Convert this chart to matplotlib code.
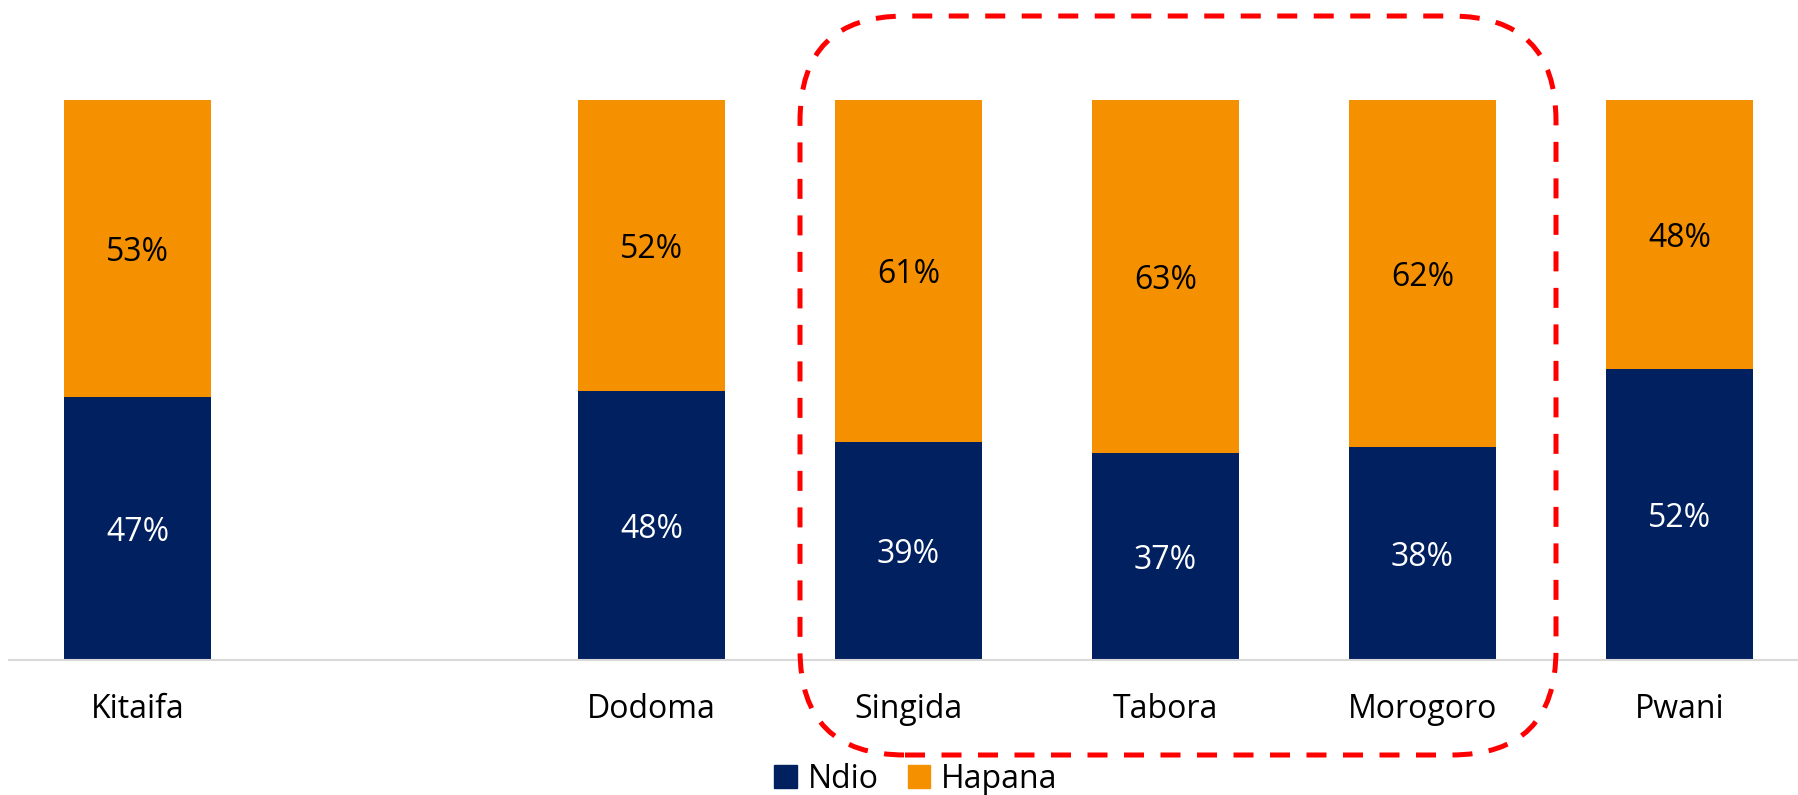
import matplotlib.pyplot as plt
import numpy as np
from matplotlib.patches import FancyBboxPatch, Patch

plt.rcParams['font.family'] = ['Open Sans', 'DejaVu Sans']

# data (percent)
regions = ['Kitaifa', '', 'Dodoma', 'Singida', 'Tabora', 'Morogoro', 'Pwani']
ndio = [47, None, 48, 39, 37, 38, 52]
hapana = [53, None, 52, 61, 63, 62, 48]

navy = '#002060'
orange = '#F59100'

W, H = 1798, 795
fig = plt.figure(figsize=(W / 100, H / 100), dpi=100)
ax = fig.add_axes([9 / W, (H - 660) / H, 1799 / W, 560 / H])

x = np.arange(len(regions))
idx = [i for i in range(len(regions)) if ndio[i] is not None]
nd = np.array([ndio[i] for i in idx])
hp = np.array([hapana[i] for i in idx])
xs = x[idx]

ax.bar(xs, nd, width=0.57, color=navy, label='Ndio')
ax.bar(xs, hp, width=0.57, bottom=nd, color=orange, label='Hapana')

for xi, a, b in zip(xs, nd, hp):
    ax.text(xi, a / 2, f'{a}%', ha='center', va='center_baseline', color='white', fontsize=23)
    ax.text(xi, a + b / 2, f'{b}%', ha='center', va='center_baseline', color='black', fontsize=23)

ax.set_xlim(-0.5, len(regions) - 0.5)
ax.set_ylim(0, 100)
ax.set_xticks(x)
ax.set_xticklabels(regions, fontsize=23)
ax.tick_params(axis='x', length=0, pad=24)
ax.set_yticks([])
for s in ['top', 'right', 'left']:
    ax.spines[s].set_visible(False)
ax.spines['bottom'].set_color('#D9D9D9')
ax.spines['bottom'].set_linewidth(1.5)

handles = [Patch(color=navy, label='Ndio'), Patch(color=orange, label='Hapana')]
fig.legend(handles=handles, loc='center', bbox_to_anchor=(916 / W, 1 - 779 / H),
           ncol=2, frameon=False, fontsize=23, handlelength=0.7, handleheight=0.7,
           handletextpad=0.35, columnspacing=0.9)

# red dashed highlight around Singida-Morogoro
box = FancyBboxPatch((800, H - 755), 756, 739, boxstyle='round,pad=0,rounding_size=105',
                     transform=None, fill=False, edgecolor='#FF0000', linewidth=3.6,
                     linestyle=(0, (4, 3.3)))
fig.patches.append(box)

fig.savefig('out.png', dpi=100)
